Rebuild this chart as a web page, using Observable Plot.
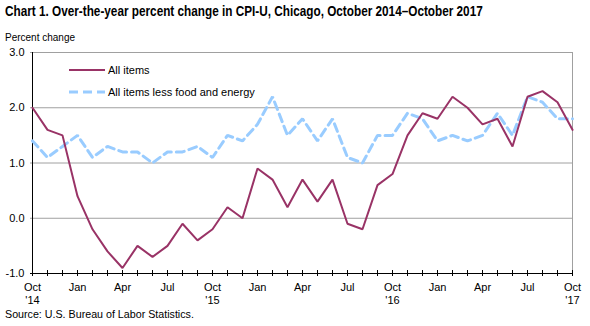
<!DOCTYPE html>
<html><head><meta charset="utf-8">
<script src="https://cdn.jsdelivr.net/npm/d3@7"></script>
<script src="https://cdn.jsdelivr.net/npm/@observablehq/plot@0.6"></script>
<style>
body{margin:0;width:590px;height:326px;position:relative;font-family:"Liberation Sans",Arial,sans-serif;background:#fff;overflow:hidden}
#chart{position:absolute;left:0;top:0}
#title{position:absolute;left:5px;top:3px;font-weight:bold;font-size:14px;font-family:"Liberation Sans Narrow","Liberation Sans",Arial,sans-serif;white-space:nowrap;color:#000;transform:scaleX(0.84);transform-origin:0 0}
#ylab{position:absolute;left:5px;top:32px;font-size:10px;white-space:nowrap}
#source{position:absolute;left:5px;top:308px;font-size:10.7px;white-space:nowrap}
.leg{position:absolute;left:69px;font-size:11px;white-space:nowrap;display:flex;align-items:center}
.leg svg{margin-right:3px}
</style></head>
<body>
<div id="chart"></div>
<div id="title">Chart 1. Over-the-year percent change in CPI-U, Chicago, October 2014–October 2017</div>
<div id="ylab">Percent change</div>
<div class="leg" style="top:64px"><svg width="36" height="12"><line x1="0" x2="36" y1="6" y2="6" stroke="#993366" stroke-width="2"/></svg><span>All items</span></div>
<div class="leg" style="top:86px"><svg width="36" height="12"><line x1="0" x2="36" y1="6" y2="6" stroke="#99ccff" stroke-width="3" stroke-dasharray="9,5"/></svg><span>All items less food and energy</span></div>
<div id="source">Source: U.S. Bureau of Labor Statistics.</div>
<script>
const months = ["2014-10","2014-11","2014-12",
  "2015-01","2015-02","2015-03","2015-04","2015-05","2015-06","2015-07","2015-08","2015-09","2015-10","2015-11","2015-12",
  "2016-01","2016-02","2016-03","2016-04","2016-05","2016-06","2016-07","2016-08","2016-09","2016-10","2016-11","2016-12",
  "2017-01","2017-02","2017-03","2017-04","2017-05","2017-06","2017-07","2017-08","2017-09","2017-10"];
const allItems = [2.0,1.6,1.5,
  0.4,-0.2,-0.6,-0.9,-0.5,-0.7,-0.5,-0.1,-0.4,-0.2,0.2,0.0,
  0.9,0.7,0.2,0.7,0.3,0.7,-0.1,-0.2,0.6,0.8,1.5,1.9,
  1.8,2.2,2.0,1.7,1.8,1.3,2.2,2.3,2.1,1.6];
const coreItems = [1.4,1.1,1.3,
  1.5,1.1,1.3,1.2,1.2,1.0,1.2,1.2,1.3,1.1,1.5,1.4,
  1.7,2.2,1.5,1.8,1.4,1.8,1.1,1.0,1.5,1.5,1.9,1.8,
  1.4,1.5,1.4,1.5,1.9,1.5,2.2,2.1,1.8,1.8];
const yTicks = [-1,0,1,2,3];
const monthNames = {"01":"Jan","04":"Apr","07":"Jul","10":"Oct"};
const labeledMonths = months.filter(m => monthNames[m.slice(5)]);
const fmtMonth = m => {
  const mm = m.slice(5), yy = m.slice(2,4);
  return mm === "10" ? `Oct\n'${yy}` : monthNames[mm];
};

const rowsAll = months.map((m,i) => ({month:m, value:allItems[i]}));
const rowsCore = months.map((m,i) => ({month:m, value:coreItems[i]}));

const chart = Plot.plot({
  width: 590, height: 326,
  marginLeft: 30, marginRight: 17, marginTop: 52, marginBottom: 53,
  style: {fontFamily: "'Liberation Sans', Arial, sans-serif", fontSize: "11px", background: "#fff", color: "#000"},
  x: {type: "point", domain: months, padding: 0},
  y: {domain: [-1, 3]},
  marks: [
    Plot.gridY(yTicks.filter(d => d > -1), {stroke: "#a0a0a0", strokeOpacity: 1, strokeWidth: 1}),
    Plot.ruleX([months[months.length-1]], {stroke: "#a0a0a0", strokeWidth: 1}),
    Plot.ruleX([months[0]], {stroke: "#000", strokeWidth: 1}),
    Plot.ruleY([-1], {stroke: "#000", strokeWidth: 1}),
    Plot.ruleX(months, {x: d => d, y1: -1, y2: -1, insetTop: -3, insetBottom: -3, stroke: "#000", strokeWidth: 1}),
    Plot.axisY({ticks: yTicks, tickFormat: d => d.toFixed(1), tickSize: 0, tickPadding: 6, label: null, fontSize: 11}),
    Plot.axisX({ticks: labeledMonths, tickFormat: fmtMonth, tickSize: 0, tickPadding: 9, label: null, fontSize: 11, lineHeight: 1.15}),
    Plot.line(rowsCore, {x: "month", y: "value", stroke: "#99ccff", strokeWidth: 3, strokeDasharray: "8,5", strokeLinejoin: "miter"}),
    Plot.line(rowsAll, {x: "month", y: "value", stroke: "#993366", strokeWidth: 2, strokeLinejoin: "miter"})
  ]
});
document.getElementById("chart").appendChild(chart);
</script>
</body></html>
